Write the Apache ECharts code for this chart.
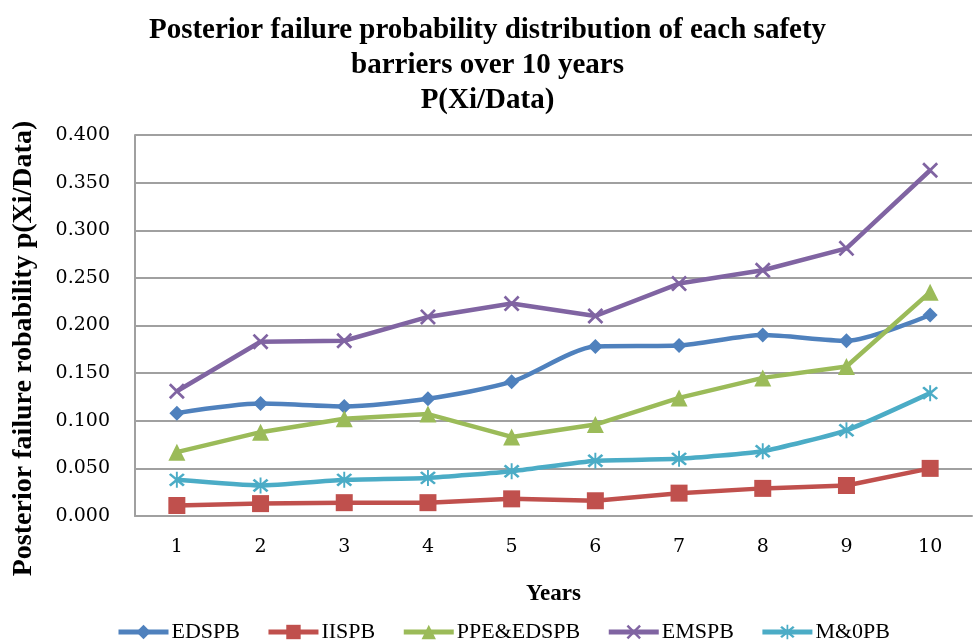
<!DOCTYPE html>
<html>
<head>
<meta charset="utf-8">
<script src="https://cdn.jsdelivr.net/npm/echarts@6/dist/echarts.min.js"></script>
<style>html,body{margin:0;padding:0;background:#fff;}#chart{width:975px;height:640px;}</style>
</head>
<body>
<div id="chart"></div>
<script>
var years = ['1','2','3','4','5','6','7','8','9','10'];
var seriesNames = ['EDSPB','IISPB','PPE&EDSPB','EMSPB','M&0PB'];
var EDSPB = [0.108,0.118,0.115,0.123,0.141,0.178,0.179,0.190,0.184,0.211];
var IISPB = [0.011,0.013,0.014,0.014,0.018,0.016,0.024,0.029,0.032,0.050];
var PPE_EDSPB = [0.067,0.088,0.102,0.107,0.083,0.096,0.124,0.145,0.157,0.235];
var EMSPB = [0.131,0.183,0.184,0.209,0.223,0.210,0.244,0.258,0.281,0.363];
var M0PB = [0.038,0.032,0.038,0.040,0.047,0.058,0.060,0.068,0.090,0.129];
var yTicks = [0,0.05,0.1,0.15,0.2,0.25,0.3,0.35,0.4];

var colors = ['#4F81BD','#C0504D','#9BBB59','#8064A2','#4BACC6'];
var xPath = 'path://M0,1.2L1.2,0L5,3.8L8.8,0L10,1.2L6.2,5L10,8.8L8.8,10L5,6.2L1.2,10L0,8.8L3.8,5Z';
var starPath = 'path://M0,1.2L1.2,0L5,3.8L8.8,0L10,1.2L6.2,5L10,8.8L8.8,10L5,6.2L1.2,10L0,8.8L3.8,5Z M4.4,-1L5.6,-1L5.6,11L4.4,11Z';
var symbols = ['diamond','rect','triangle',xPath,starPath];
var sizes = [15,17,17,16,16];
var dataArr = [EDSPB,IISPB,PPE_EDSPB,EMSPB,M0PB];
var smoothArr = [0.25,false,false,false,0.15];

var chart = echarts.init(document.getElementById('chart'));
var series = seriesNames.map(function(n,i){
  return {
    name:n, type:'line', data:dataArr[i], smooth:smoothArr[i],
    symbol:symbols[i], symbolSize:sizes[i], showSymbol:true,
    lineStyle:{color:colors[i], width:4.5},
    itemStyle:{color:colors[i], borderWidth:0},
    z: 2+i
  };
});
chart.setOption({
  animation:false,
  color:colors,
  title:{
    text:'Posterior failure probability distribution of each safety\nbarriers over 10 years\nP(Xi/Data)',
    left:'center', top:8,
    textStyle:{fontFamily:'Liberation Serif', fontWeight:'bold', fontSize:29, lineHeight:35, color:'#000', align:'center'}
  },
  legend:{
    left:111, top:616, itemWidth:50, itemHeight:18, itemGap:26,
    lineStyle:{width:5},
    textStyle:{fontFamily:'Liberation Serif', fontSize:22, color:'#000', padding:[0,0,0,-2]},
    data:seriesNames
  },
  grid:{left:135, right:3, top:135, bottom:124, containLabel:false},
  xAxis:{
    type:'category', data:years, boundaryGap:true,
    name:'Years', nameLocation:'middle', nameGap:67,
    nameTextStyle:{fontFamily:'Liberation Serif', fontWeight:'bold', fontSize:23, color:'#000'},
    axisLine:{lineStyle:{color:'#a0a0a0', width:2}},
    axisTick:{show:false},
    axisLabel:{fontFamily:'DejaVu Serif', fontSize:19, color:'#000', margin:22}
  },
  yAxis:{
    type:'value', min:0, max:0.4, interval:0.05,
    name:'Posterior failure robability p(Xi/Data)', nameLocation:'middle', nameGap:97,
    nameTextStyle:{fontFamily:'Liberation Serif', fontWeight:'bold', fontSize:28, color:'#000', padding:[0,46,0,0]},
    axisLine:{show:true, lineStyle:{color:'#a0a0a0', width:2}},
    axisTick:{show:false},
    splitLine:{lineStyle:{color:'#a0a0a0', width:2}},
    axisLabel:{fontFamily:'DejaVu Serif', fontSize:19, color:'#000', margin:25,
      formatter:function(v){return v.toFixed(3);}}
  },
  series:series
});
</script>
</body>
</html>
